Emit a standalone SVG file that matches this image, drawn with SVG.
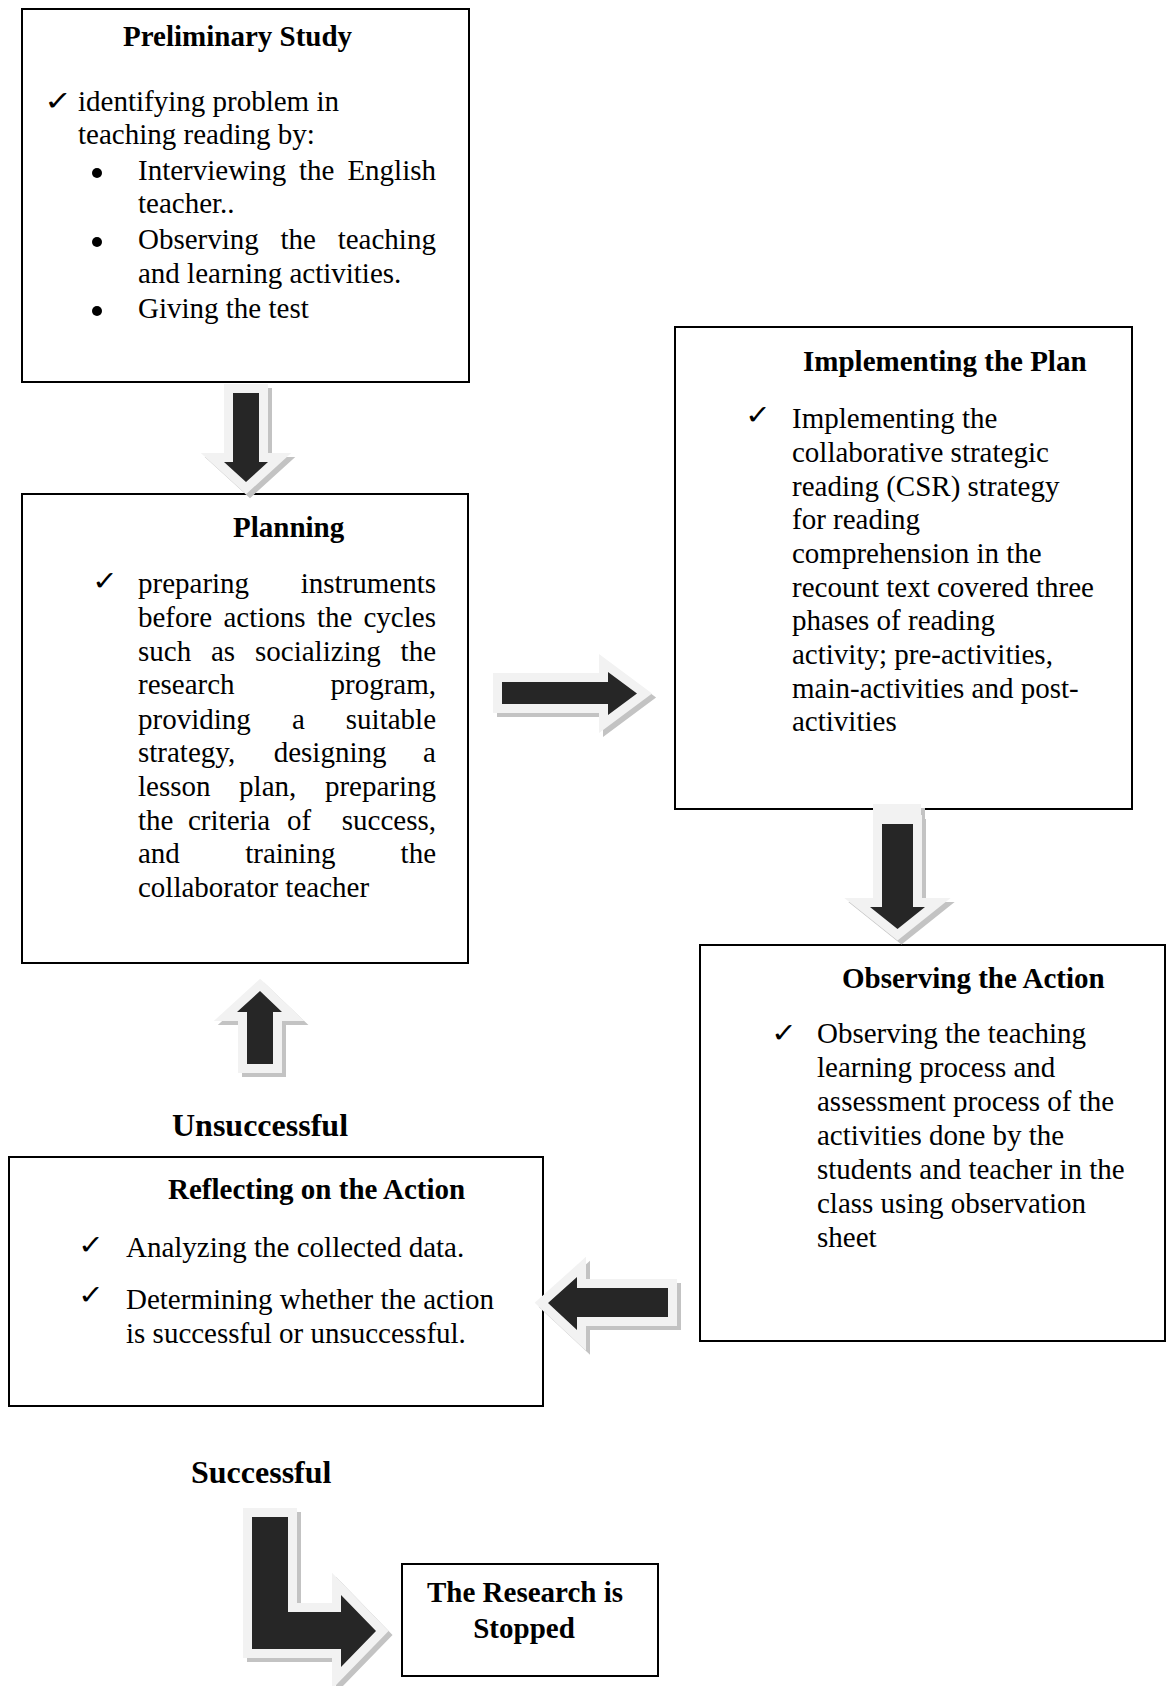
<svg xmlns="http://www.w3.org/2000/svg" width="1168" height="1686" viewBox="0 0 1168 1686">
<style>
.box{fill:#fff;stroke:#000;stroke-width:2}
.t{font-family:"Liberation Serif","Times New Roman",serif;font-size:29px;fill:#000}
.b{font-weight:bold}
.lbl{font-family:"Liberation Serif","Times New Roman",serif;font-size:32px;font-weight:bold;fill:#000}
.ck{font-family:"DejaVu Sans",sans-serif;font-size:27px;fill:#000}
.sh{fill:#c3c3c3;stroke:#c3c3c3;stroke-width:18;stroke-linejoin:miter;stroke-miterlimit:10}
.lt{fill:#f2f2f2;stroke:#f2f2f2;stroke-width:18;stroke-linejoin:miter;stroke-miterlimit:10}
.dk{fill:#262626}
</style>
<defs>
<polygon id="aA" points="233,393 259,393 259,462 268,462 246,482 224,462 233,462"/>
<polygon id="aB" points="502,682 608,682 608,672 637,693.5 608,715 608,704 502,704"/>
<polygon id="aC" points="882,824 913,824 913,907 925,907 897.5,929 870,907 882,907"/>
<polygon id="aD" points="260,991 282,1012 273,1012 273,1064 247,1064 247,1012 237,1012"/>
<polygon id="aE" points="548,1303 577,1277 577,1288 668,1288 668,1317 577,1317 577,1330"/>
<polygon id="aF" points="252,1517 288,1517 288,1612 341,1612 341,1595 376,1631 341,1667 341,1649 252,1649"/>
</defs>
<rect width="1168" height="1686" fill="#fff"/>

<g id="prelim">
<rect class="box" x="22" y="9" width="447" height="373"/>
<text class="t b" x="123" y="46">Preliminary Study</text>
<text class="ck" transform="translate(44,110) scale(1.25,1)">✓</text>
<text class="t" x="78" y="111">identifying problem in</text>
<text class="t" x="78" y="144">teaching reading by:</text>
<circle cx="97" cy="173" r="5"/>
<text class="t" y="180"><tspan x="138">Interviewing</tspan><tspan x="299">the</tspan><tspan x="347.4">English</tspan></text>
<text class="t" x="138" y="213">teacher..</text>
<circle cx="97" cy="242" r="5"/>
<text class="t" y="249"><tspan x="138">Observing</tspan><tspan x="280.5">the</tspan><tspan x="337.7">teaching</tspan></text>
<text class="t" x="138" y="283">and learning activities.</text>
<circle cx="97" cy="311" r="5"/>
<text class="t" x="138" y="318">Giving the test</text>
</g>

<g id="planning">
<rect class="box" x="22" y="494" width="446" height="469"/>
<text class="t b" x="233" y="537">Planning</text>
<text class="ck" transform="translate(92,590) scale(1.15,1)">✓</text>
<text class="t" y="593"><tspan x="138">preparing</tspan><tspan x="300.7">instruments</tspan></text>
<text class="t" y="627"><tspan x="138">before</tspan><tspan x="223.4">actions</tspan><tspan x="316.9">the</tspan><tspan x="363.5">cycles</tspan></text>
<text class="t" y="661"><tspan x="138">such</tspan><tspan x="211">as</tspan><tspan x="255">socializing</tspan><tspan x="400.6">the</tspan></text>
<text class="t" y="694"><tspan x="138">research</tspan><tspan x="330.5">program,</tspan></text>
<text class="t" y="729"><tspan x="138">providing</tspan><tspan x="291.9">a</tspan><tspan x="345.8">suitable</tspan></text>
<text class="t" y="762"><tspan x="138">strategy,</tspan><tspan x="273.7">designing</tspan><tspan x="423.1">a</tspan></text>
<text class="t" y="796"><tspan x="138">lesson</tspan><tspan x="239.1">plan,</tspan><tspan x="324.9">preparing</tspan></text>
<text class="t" y="830"><tspan x="138">the</tspan><tspan x="188">criteria</tspan><tspan x="287">of</tspan><tspan x="341.8">success,</tspan></text>
<text class="t" y="863"><tspan x="138">and</tspan><tspan x="245.2">training</tspan><tspan x="400.6">the</tspan></text>
<text class="t" x="138" y="897">collaborator teacher</text>
</g>

<g id="implementing">
<rect class="box" x="675" y="327" width="457" height="482"/>
<text class="t b" x="803" y="371">Implementing the Plan</text>
<text class="ck" transform="translate(745,424) scale(1.15,1)">✓</text>
<text class="t" x="792" y="428">Implementing the</text>
<text class="t" x="792" y="462">collaborative strategic</text>
<text class="t" x="792" y="495.5">reading (CSR) strategy</text>
<text class="t" x="792" y="529">for reading</text>
<text class="t" x="792" y="563">comprehension in the</text>
<text class="t" x="792" y="596.5">recount text covered three</text>
<text class="t" x="792" y="630">phases of reading</text>
<text class="t" x="792" y="664">activity; pre-activities,</text>
<text class="t" x="792" y="698">main-activities and post-</text>
<text class="t" x="792" y="731">activities</text>
</g>

<g id="observing">
<rect class="box" x="700" y="945" width="465" height="396"/>
<text class="t b" x="842" y="988">Observing the Action</text>
<text class="ck" transform="translate(771,1042) scale(1.15,1)">✓</text>
<text class="t" x="817" y="1043">Observing the teaching</text>
<text class="t" x="817" y="1077">learning process and</text>
<text class="t" x="817" y="1111">assessment process of the</text>
<text class="t" x="817" y="1145">activities done by the</text>
<text class="t" x="817" y="1179">students and teacher in the</text>
<text class="t" x="817" y="1213">class using observation</text>
<text class="t" x="817" y="1247">sheet</text>
</g>

<g id="reflecting">
<rect class="box" x="9" y="1157" width="534" height="249"/>
<text class="t b" x="168" y="1199">Reflecting on the Action</text>
<text class="ck" transform="translate(78,1254) scale(1.15,1)">✓</text>
<text class="t" x="126" y="1257">Analyzing the collected data.</text>
<text class="ck" transform="translate(78,1304) scale(1.15,1)">✓</text>
<text class="t" x="126" y="1309">Determining whether the action</text>
<text class="t" x="126" y="1343">is successful or unsuccessful.</text>
</g>

<g id="stopped">
<rect class="box" x="402" y="1564" width="256" height="112"/>
<text class="t b" x="525" y="1602" text-anchor="middle">The Research is</text>
<text class="t b" x="524" y="1638" text-anchor="middle">Stopped</text>
</g>

<g id="connectors">
<g id="arrow-prelim-planning"><use href="#aA" class="sh" transform="translate(4,4)"/><use href="#aA" class="lt"/><use href="#aA" class="dk"/></g>
<g id="arrow-planning-implementing"><use href="#aB" class="sh" transform="translate(4,4)"/><use href="#aB" class="lt"/><use href="#aB" class="dk"/></g>
<g id="arrow-implementing-observing"><rect x="877" y="808" width="48" height="20" fill="#c3c3c3"/><rect x="873" y="804" width="48" height="24" fill="#f2f2f2"/><use href="#aC" class="sh" transform="translate(4,4)"/><use href="#aC" class="lt"/><use href="#aC" class="dk"/></g>
<g id="arrow-observing-reflecting"><use href="#aE" class="sh" transform="translate(4,4)"/><use href="#aE" class="lt"/><use href="#aE" class="dk"/></g>
<g id="arrow-reflecting-planning"><use href="#aD" class="sh" transform="translate(4,4)"/><use href="#aD" class="lt"/><use href="#aD" class="dk"/></g>
<g id="arrow-reflecting-stopped"><use href="#aF" class="sh" transform="translate(4,4)"/><use href="#aF" class="lt"/><use href="#aF" class="dk"/></g>
<text class="lbl" x="172" y="1136">Unsuccessful</text>
<text class="lbl" x="191" y="1483">Successful</text>
</g>
</svg>
